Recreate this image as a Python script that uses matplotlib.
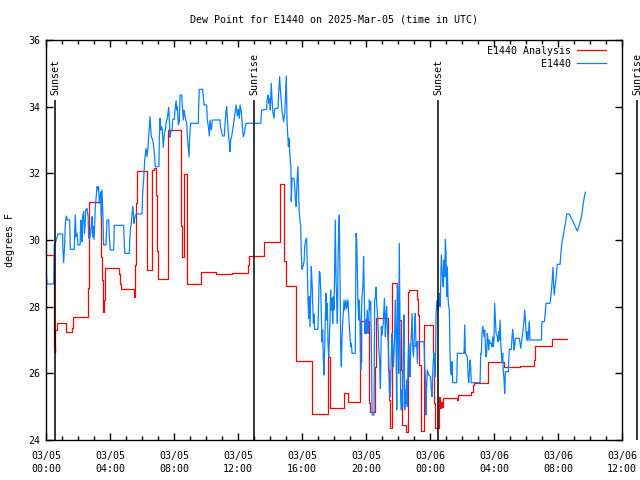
import matplotlib
matplotlib.use("Agg")
import matplotlib.pyplot as plt
from matplotlib.ticker import MultipleLocator

# time axis: hours since 2025-03-05 00:00 UTC

# E1440 Analysis (hourly steps)
analysis_hours = [0, 0.47, 0.52, 0.54, 0.58, 0.69, 1.27, 1.6, 1.69, 2.6, 2.67, 3.44, 3.5, 3.54, 3.6, 3.67,
                  3.71, 4.58, 4.63, 4.69, 5.52, 5.56, 5.63, 5.69, 6.31, 6.33, 6.63, 6.73, 6.88, 6.94, 7.02,
                  7.64, 8.42, 8.44, 8.5, 8.63, 8.79, 8.83, 9.67, 10.63, 11.64, 12.63, 12.67, 13.63, 14.64,
                  14.89, 14.98, 15.63, 15.64, 16.61, 16.64, 17.61, 17.75, 18.61, 18.64, 18.89, 19.61, 19.67,
                  19.71, 20.17, 20.25, 20.58, 20.63, 21.39, 21.44, 21.48, 21.52, 21.64, 21.92, 22.04, 22.17,
                  22.23, 22.48, 22.63, 22.69, 23.21, 23.27, 23.33, 23.42, 23.64, 24.21, 24.27, 24.33, 24.58,
                  24.64, 24.71, 24.75, 24.81, 25.67, 25.75, 26.56, 26.67, 26.75, 27.6, 28.6, 29.63, 30.52,
                  30.58, 31.6, 32.54]
analysis_dewpt = [29.54, 28.2, 26.8, 26.65, 27.3, 27.5, 27.23, 27.35, 27.7, 28.55, 31.13, 29.5, 28.8, 27.83, 28.2, 28.8,
                  29.15, 28.98, 28.68, 28.52, 28.3, 29.25, 31.1, 32.08, 30.6, 29.1, 32.1, 32.17, 31.35, 29.68, 28.82,
                  33.3, 32.35, 30.42, 29.48, 31.98, 30.32, 28.67, 29.04, 28.98, 29.01, 29.24, 29.51, 29.93, 31.67,
                  29.38, 28.62, 27.48, 26.37, 25.57, 24.78, 26.5, 24.95, 25.2, 25.4, 25.14, 27.58, 26.35,
                  27.58, 25.1, 24.85, 26.2, 27.65, 26.1, 25.2, 24.45, 24.35, 28.7, 28.2, 27.6, 26.1,
                  24.44, 24.23, 28.45, 28.5, 28.23, 27.75, 26.25, 24.27, 27.44, 26.6, 25.12, 24.35, 25.3,
                  24.95, 25.15, 25.0, 25.25, 25.2, 25.35, 25.45, 25.65, 25.72, 26.35, 26.18, 26.22, 26.4,
                  26.82, 27.04, 27.04]

# E1440 observations (hours, dew point F)
e1440_obs = [
    (0, 29.1), (0.06, 28.68), (0.48, 28.68), (0.52, 29.85), (0.58, 29.9), (0.75, 30.18), (1.04, 30.18),
    (1.05, 29.8), (1.1, 29.32), (1.15, 29.7), (1.21, 30.5), (1.27, 30.72), (1.33, 30.6), (1.48, 30.6),
    (1.5, 30.15), (1.52, 29.72), (1.77, 29.72), (1.79, 30.15), (1.83, 30.75), (1.88, 30.1), (1.94, 30.2),
    (2.0, 29.85), (2.13, 29.85), (2.17, 30.6), (2.21, 30.4), (2.25, 29.95), (2.29, 30.7), (2.35, 30.85),
    (2.4, 30.2), (2.44, 30.4), (2.48, 30.9), (2.56, 30.95), (2.63, 30.7), (2.67, 30.05), (2.73, 30.05),
    (2.79, 30.2), (2.83, 30.4), (2.88, 30.7), (2.92, 30.1), (2.96, 30.4), (3.0, 30.02), (3.04, 30.4),
    (3.08, 31.0), (3.15, 31.35), (3.19, 31.6), (3.25, 31.5), (3.29, 31.6), (3.33, 31.1), (3.38, 31.3),
    (3.42, 31.45), (3.46, 30.7), (3.5, 31.5), (3.56, 30.7), (3.6, 29.85), (3.75, 29.85), (3.81, 30.6),
    (3.92, 30.6), (3.96, 30.1), (4.02, 29.7), (4.23, 29.7), (4.27, 30.44), (4.85, 30.44), (4.87, 30.2),
    (4.92, 29.6), (5.21, 29.6), (5.23, 29.9), (5.27, 30.3), (5.33, 30.5), (5.38, 30.8), (5.42, 31.0),
    (5.46, 30.8), (5.5, 30.5), (5.54, 30.65), (5.63, 30.78), (6.0, 30.78), (6.04, 31.4), (6.1, 31.8),
    (6.17, 32.4), (6.25, 32.75), (6.31, 32.5), (6.38, 32.8), (6.42, 33.15), (6.46, 33.4), (6.5, 33.7),
    (6.54, 33.4), (6.58, 33.1), (6.67, 33.0), (6.73, 32.8), (6.79, 32.5), (6.83, 32.2), (7.06, 32.2),
    (7.08, 33.0), (7.13, 33.65), (7.17, 33.3), (7.23, 33.4), (7.27, 33.3), (7.33, 32.78), (7.4, 33.2),
    (7.46, 33.3), (7.5, 33.5), (7.6, 33.7), (7.67, 33.98), (7.71, 33.6), (7.75, 33.08), (7.81, 33.25),
    (7.88, 33.3), (7.92, 33.62), (8.02, 33.62), (8.06, 33.9), (8.13, 34.18), (8.17, 33.9), (8.21, 34.0),
    (8.27, 33.45), (8.33, 33.55), (8.38, 34.35), (8.48, 34.35), (8.54, 33.9), (8.58, 33.6), (8.63, 33.9),
    (8.69, 33.7), (8.79, 33.5), (8.85, 33.0), (8.9, 32.7), (8.94, 32.5), (8.98, 33.1), (9.04, 33.5),
    (9.52, 33.5), (9.54, 34.0), (9.58, 34.52), (9.79, 34.52), (9.83, 34.3), (9.88, 34.05), (10.04, 34.05),
    (10.08, 33.6), (10.15, 33.4), (10.21, 33.12), (10.25, 33.6), (10.33, 33.3), (10.4, 33.6), (10.88, 33.6),
    (10.9, 33.4), (10.98, 33.25), (11.04, 33.12), (11.15, 33.12), (11.19, 33.5), (11.25, 33.85), (11.29, 34.0),
    (11.35, 33.55), (11.42, 33.1), (11.46, 32.9), (11.5, 32.65), (11.54, 33.0), (11.6, 33.1), (11.67, 33.3),
    (11.75, 33.6), (11.81, 33.8), (11.88, 34.05), (11.96, 33.72), (12.02, 33.92), (12.08, 33.65), (12.13, 34.05),
    (12.19, 33.9), (12.23, 33.7), (12.29, 33.3), (12.33, 33.1), (12.4, 33.2), (12.46, 33.4), (12.5, 33.5),
    (13.42, 33.5), (13.44, 33.65), (13.48, 33.9), (13.79, 33.92), (13.81, 34.15), (13.85, 34.32), (13.88, 34.35),
    (13.94, 34.1), (13.98, 34.25), (14.02, 33.9), (14.08, 34.7), (14.13, 34.2), (14.19, 33.8), (14.25, 33.65),
    (14.29, 33.92), (14.33, 33.95), (14.5, 33.95), (14.54, 34.4), (14.6, 34.9), (14.65, 34.5), (14.71, 34.15),
    (14.75, 33.85), (14.81, 33.7), (14.85, 33.55), (14.92, 33.8), (14.98, 34.5), (15.02, 34.92), (15.06, 33.65),
    (15.1, 33.2), (15.15, 32.8), (15.19, 33.05), (15.23, 32.7), (15.27, 32.35), (15.31, 32.2), (15.33, 31.15),
    (15.38, 31.85), (15.5, 31.85), (15.54, 31.65), (15.58, 31.28), (15.64, 31.0), (15.69, 31.8), (15.75, 32.2),
    (15.79, 31.35), (15.83, 30.8), (15.88, 30.55), (15.92, 30.4), (15.96, 29.55), (16.0, 29.12), (16.06, 29.2),
    (16.13, 29.35), (16.17, 29.8), (16.23, 30.0), (16.29, 30.05), (16.33, 29.2), (16.38, 28.1), (16.42, 27.65),
    (16.46, 28.3), (16.5, 27.4), (16.54, 28.3), (16.58, 29.2), (16.63, 28.7), (16.67, 28.1), (16.71, 27.5),
    (16.75, 27.78), (16.79, 27.32), (17.0, 27.32), (17.04, 28.2), (17.08, 29.05), (17.13, 29.0), (17.17, 28.5),
    (17.21, 27.7), (17.25, 26.95), (17.29, 27.3), (17.33, 26.5), (17.38, 25.95), (17.42, 26.9), (17.46, 27.7),
    (17.5, 28.4), (17.54, 27.6), (17.58, 28.1), (17.63, 26.8), (17.67, 26.5), (17.71, 27.1), (17.75, 27.6),
    (17.79, 28.5), (17.83, 27.9), (17.88, 28.25), (17.92, 27.5), (17.96, 28.3), (18.0, 27.9), (18.04, 29.1),
    (18.08, 30.6), (18.13, 28.75), (18.17, 28.2), (18.21, 27.5), (18.25, 29.3), (18.29, 30.25), (18.33, 30.75),
    (18.38, 28.7), (18.42, 26.7), (18.46, 26.2), (18.5, 27.1), (18.54, 27.5), (18.58, 27.8), (18.63, 28.2),
    (18.67, 27.9), (18.75, 28.2), (18.79, 27.95), (18.88, 28.2), (18.92, 27.7), (18.96, 27.4), (19.0, 27.1),
    (19.04, 26.8), (19.08, 26.9), (19.13, 26.6), (19.33, 26.6), (19.38, 30.2), (19.42, 30.0), (19.46, 29.0),
    (19.5, 28.1), (19.54, 27.6), (19.58, 28.2), (19.63, 27.4), (19.67, 26.1), (19.71, 27.5), (19.75, 28.3),
    (19.81, 28.65), (19.85, 29.5), (19.9, 28.1), (19.94, 27.2), (19.98, 27.6), (20.02, 27.2), (20.08, 27.9),
    (20.13, 27.2), (20.17, 27.5), (20.21, 28.2), (20.25, 27.9), (20.29, 28.15), (20.33, 27.1), (20.38, 24.75),
    (20.5, 24.75), (20.54, 28.2), (20.58, 28.25), (20.63, 28.58), (20.67, 28.1), (20.75, 27.5), (20.79, 26.8),
    (20.85, 26.4), (20.9, 25.55), (20.96, 27.4), (21.0, 27.15), (21.04, 27.35), (21.08, 27.5), (21.15, 28.25),
    (21.21, 27.1), (21.25, 27.75), (21.29, 28.0), (21.33, 27.4), (21.38, 27.0), (21.42, 26.4), (21.46, 25.5),
    (21.5, 25.3), (21.54, 25.8), (21.58, 26.5), (21.63, 27.2), (21.67, 26.8), (21.71, 26.2), (21.75, 26.6),
    (21.79, 27.1), (21.83, 28.2), (21.88, 27.0), (21.92, 24.9), (21.96, 28.65), (22.0, 28.2), (22.04, 26.0),
    (22.08, 29.9), (22.13, 27.0), (22.17, 25.2), (22.21, 24.9), (22.25, 25.5), (22.29, 25.0), (22.33, 26.7),
    (22.38, 27.75), (22.42, 24.9), (22.46, 25.5), (22.5, 25.1), (22.54, 25.8), (22.58, 25.0), (22.63, 26.4),
    (22.67, 26.9), (22.71, 26.6), (22.75, 25.9), (22.79, 26.7), (22.83, 27.2), (22.88, 27.8), (22.92, 26.8),
    (22.96, 26.5), (23.0, 26.8), (23.04, 27.4), (23.08, 27.8), (23.13, 26.8), (23.17, 26.95), (23.21, 26.3),
    (23.25, 26.95), (23.63, 26.95), (23.67, 26.2), (23.71, 25.9), (23.75, 24.75), (23.79, 25.6), (23.83, 26.1),
    (23.92, 25.95), (24.04, 25.9), (24.08, 25.5), (24.13, 25.3), (24.17, 26.0), (24.21, 26.4), (24.25, 26.6),
    (24.29, 26.3), (24.33, 25.9), (24.38, 27.8), (24.42, 28.1), (24.46, 28.2), (24.5, 27.9), (24.54, 28.15),
    (24.58, 28.4), (24.63, 28.0), (24.67, 28.7), (24.71, 29.55), (24.75, 29.2), (24.79, 28.8), (24.83, 28.6),
    (24.88, 29.4), (24.92, 28.9), (24.96, 30.02), (25.0, 29.6), (25.04, 28.3), (25.08, 29.2), (25.13, 28.25),
    (25.17, 28.0), (25.21, 27.9), (25.25, 26.6), (25.29, 26.1), (25.33, 25.95), (25.38, 26.35), (25.42, 25.72),
    (25.67, 25.72), (25.71, 26.6), (26.13, 26.6), (26.17, 27.45), (26.21, 26.6), (26.33, 26.5), (26.38, 25.95),
    (26.42, 25.72), (26.46, 26.0), (26.5, 26.4), (26.54, 26.2), (26.58, 25.72), (27.13, 25.72), (27.17, 26.6),
    (27.21, 26.6), (27.25, 27.2), (27.29, 27.4), (27.33, 27.3), (27.38, 27.1), (27.42, 27.3), (27.46, 26.8),
    (27.5, 26.5), (27.54, 26.6), (27.58, 27.2), (27.63, 27.0), (27.67, 26.7), (27.71, 27.0), (27.75, 26.9),
    (27.83, 26.9), (27.88, 26.8), (27.92, 27.1), (27.96, 26.8), (28.0, 27.0), (28.04, 28.1), (28.08, 27.7),
    (28.13, 27.2), (28.21, 27.1), (28.25, 26.95), (28.29, 27.25), (28.33, 27.0), (28.38, 27.6), (28.42, 26.95),
    (28.46, 26.6), (28.5, 26.32), (28.54, 26.6), (28.58, 26.1), (28.63, 25.8), (28.67, 25.4), (28.71, 26.05),
    (28.9, 26.05), (28.92, 26.4), (28.96, 26.72), (29.08, 26.72), (29.13, 27.1), (29.17, 27.32), (29.21, 27.1),
    (29.25, 26.7), (29.29, 26.8), (29.33, 27.05), (29.58, 27.05), (29.63, 26.9), (29.67, 26.75), (29.71, 26.9),
    (29.75, 27.05), (29.79, 27.2), (29.83, 27.35), (29.88, 27.6), (29.92, 27.9), (29.96, 27.6), (30.0, 27.3),
    (30.04, 27.0), (30.08, 27.25), (30.13, 26.98), (30.17, 27.3), (30.21, 27.55), (30.25, 27.0), (30.96, 27.0),
    (31.0, 27.55), (31.15, 27.55), (31.21, 27.85), (31.25, 28.1), (31.5, 28.1), (31.54, 28.25), (31.6, 28.55),
    (31.65, 28.9), (31.69, 29.18), (31.73, 28.6), (31.77, 28.35), (31.81, 28.6), (31.85, 28.7), (31.9, 29.0),
    (31.96, 29.27), (32.13, 29.27), (32.17, 29.52), (32.21, 29.78), (32.25, 29.92), (32.33, 30.15), (32.38, 30.28),
    (32.44, 30.45), (32.5, 30.6), (32.54, 30.78), (32.71, 30.78), (33.21, 30.27), (33.33, 30.45), (33.42, 30.6),
    (33.5, 30.8), (33.58, 31.1), (33.65, 31.3), (33.71, 31.43),
]
obs_hours = [p[0] for p in e1440_obs]
obs_dewpt = [p[1] for p in e1440_obs]

sun_hours = [0.56, 13.0, 24.5, 36.94]
sun_names = ["Sunset", "Sunrise", "Sunset", "Sunrise"]

tick_hours = [0, 4, 8, 12, 16, 20, 24, 28, 32, 36]
tick_labels = ["03/05\n00:00", "03/05\n04:00", "03/05\n08:00", "03/05\n12:00", "03/05\n16:00",
               "03/05\n20:00", "03/06\n00:00", "03/06\n04:00", "03/06\n08:00", "03/06\n12:00"]

plt.rcParams["font.family"] = "DejaVu Sans Mono"
plt.rcParams["font.size"] = 7.2

fig = plt.figure(figsize=(6.4, 4.8), dpi=100)
ax = fig.add_axes([46 / 640, 40 / 480, 576 / 640, 400 / 480])

ax.plot(analysis_hours, analysis_dewpt, color="#ff0000", lw=0.9, drawstyle="steps-post",
        label="E1440 Analysis")
ax.plot(obs_hours, obs_dewpt, color="#0a80ff", lw=0.9, label="E1440")

# sunrise / sunset markers (last one sits past the right edge, like the original)
ax.vlines(sun_hours, 24, 34.2, colors="black", lw=1.1, clip_on=False)
for t, name in zip(sun_hours, sun_names):
    ax.text(t, 34.35, name, rotation=90, ha="center", va="bottom", clip_on=False)

ax.set_xlim(0, 36)
ax.set_ylim(24, 36)
ax.set_xticks(tick_hours)
ax.set_xticklabels(tick_labels, linespacing=1.3)
ax.xaxis.set_minor_locator(MultipleLocator(1))
ax.set_yticks(range(24, 37, 2))
ax.tick_params(which="major", direction="in", top=True, right=True, length=5, width=1)
ax.tick_params(which="minor", direction="in", top=True, right=True, length=3, width=1)
ax.tick_params(axis="x", which="major", pad=8)
ax.tick_params(axis="y", pad=4)
for s in ax.spines.values():
    s.set_linewidth(1)

ax.legend(loc="upper right", bbox_to_anchor=(0.979, 0.995), markerfirst=False, frameon=False,
          handlelength=2.9, handletextpad=0.6, labelspacing=0.3, borderaxespad=0)

fig.text(334 / 640, 1 - 19 / 480, "Dew Point for E1440 on 2025-Mar-05 (time in UTC)",
         ha="center", va="center")
fig.text(10 / 640, 0.5, "degrees F", rotation=90, ha="center", va="center")

fig.savefig("out.png", dpi=100)
